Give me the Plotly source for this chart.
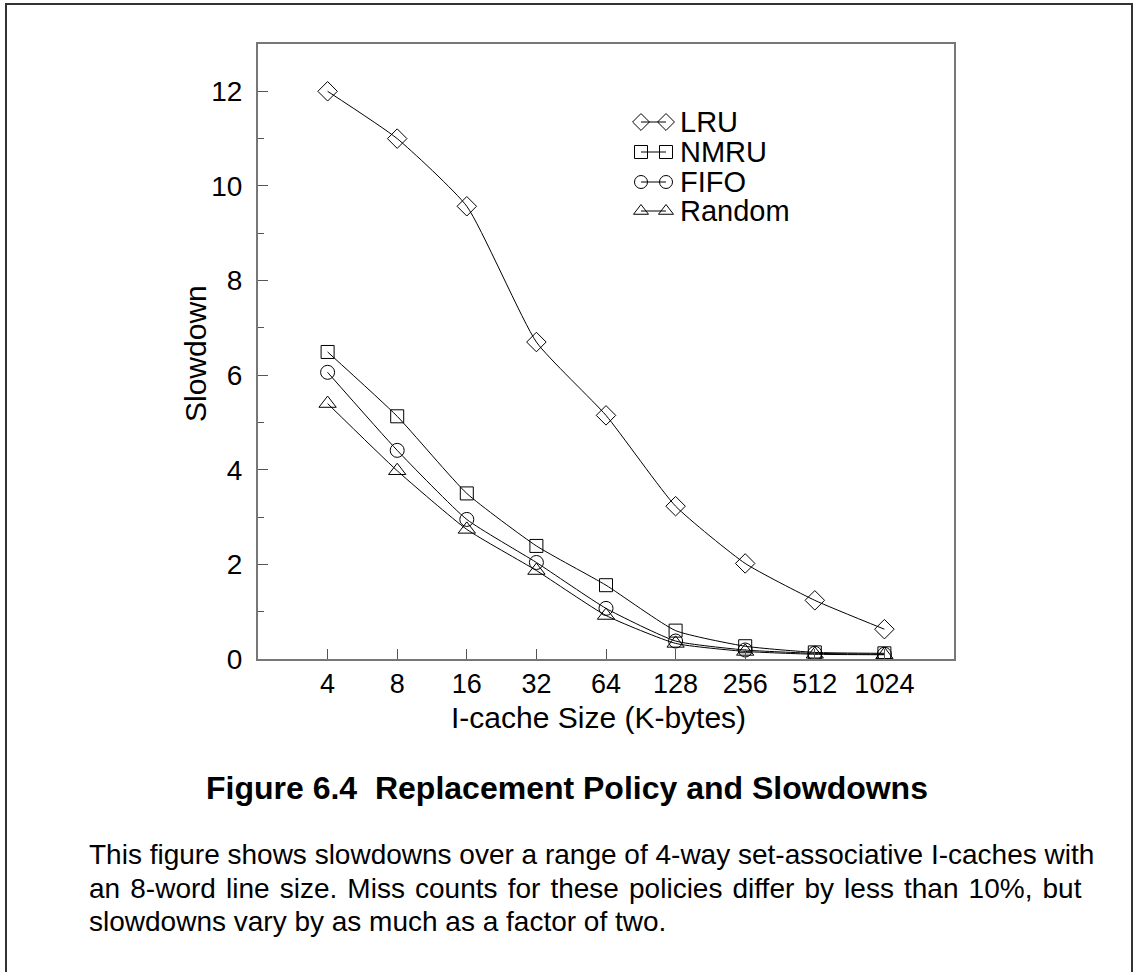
import plotly.graph_objects as go

# I-cache sizes (K-bytes) and slowdown per replacement policy
cache_sizes = ["4", "8", "16", "32", "64", "128", "256", "512", "1024"]
lru = [12.0, 11.0, 9.57, 6.70, 5.15, 3.23, 2.02, 1.24, 0.63]
nmru = [6.49, 5.13, 3.50, 2.39, 1.56, 0.60, 0.27, 0.14, 0.12]
fifo = [6.06, 4.41, 2.95, 2.04, 1.07, 0.38, 0.19, 0.12, 0.10]
random_ = [5.40, 3.98, 2.74, 1.87, 0.92, 0.33, 0.16, 0.10, 0.09]

policies = ["LRU", "NMRU", "FIFO", "Random"]
series = [lru, nmru, fifo, random_]
symbols = ["diamond-open", "square-open", "circle-open", "triangle-up-open"]
sizes = [15, 13, 14, 15]

FONT = "Liberation Sans, Arial, sans-serif"
idx = list(range(len(cache_sizes)))

# plot area in pixels (used to place text given in page pixels)
W, H = 1135, 972
PL, PT, PR, PB = 258, 44, 954, 659


def px(x):
    return (x - PL) / (PR - PL)


def py(y):
    return (PB - y) / (PB - PT)


fig = go.Figure()

for name, vals, sym, sz in zip(policies, series, symbols, sizes):
    fig.add_trace(go.Scatter(
        x=idx, y=vals, name=name, mode="lines+markers",
        line=dict(color="black", width=1, shape="spline", smoothing=0.5),
        marker=dict(symbol=sym, size=sz, color="black", line=dict(width=1)),
        showlegend=False,
    ))

# Legend glyphs (marker-line-marker) drawn on an overlay axis in plot fractions
leg_rows = [122, 152, 182, 211]
for name, sym, row in zip(policies, symbols, leg_rows):
    ly = py(row)
    fig.add_trace(go.Scatter(
        x=[px(641), px(666)], y=[ly, ly], mode="lines+markers",
        xaxis="x2", yaxis="y2", hoverinfo="skip", showlegend=False,
        line=dict(color="black", width=1),
        marker=dict(symbol=sym, size=13, color="black", line=dict(width=1)),
    ))
    fig.add_annotation(x=px(678), y=ly, xref="x2", yref="y2", text=name,
                       showarrow=False, xanchor="left", yanchor="middle",
                       font=dict(family=FONT, size=29, color="black"))

fig.update_layout(
    width=W, height=H,
    margin=dict(l=PL, r=W - PR, t=PT, b=H - PB),
    paper_bgcolor="white", plot_bgcolor="white",
    font=dict(family=FONT, color="black"),
    xaxis=dict(
        range=[-1, 9], tickmode="array", tickvals=idx, ticktext=cache_sizes,
        ticks="inside", ticklen=10, tickcolor="#555", tickwidth=1,
        showline=True, linecolor="#777", linewidth=2, mirror=True,
        showgrid=False, zeroline=False,
        tickfont=dict(family=FONT, size=27, color="black"),
    ),
    yaxis=dict(
        range=[0, 13], tickvals=[0, 2, 4, 6, 8, 10, 12],
        ticks="inside", ticklen=10, tickcolor="#555", tickwidth=1,
        minor=dict(tickvals=[1, 3, 5, 7, 9, 11], ticks="inside", ticklen=6,
                   tickcolor="#555", tickwidth=1),
        showline=True, linecolor="#777", linewidth=2, mirror=True,
        showgrid=False, zeroline=False, ticklabelstandoff=8,
        tickfont=dict(family=FONT, size=28, color="black"),
    ),
    xaxis2=dict(overlaying="x", range=[0, 1], visible=False),
    yaxis2=dict(overlaying="y", range=[0, 1], visible=False),
)

# Axis titles
fig.add_annotation(x=px(598), y=py(717), xref="paper", yref="paper",
                   text="I-cache Size (K-bytes)", showarrow=False,
                   xanchor="center", yanchor="middle",
                   font=dict(family=FONT, size=30, color="black"))
fig.add_annotation(x=px(195), y=py(354), xref="paper", yref="paper",
                   text="Slowdown", showarrow=False, textangle=-90,
                   xanchor="center", yanchor="middle",
                   font=dict(family=FONT, size=30, color="black"))

# Figure caption
fig.add_annotation(x=px(567), y=py(788), xref="paper", yref="paper",
                   xanchor="center", yanchor="middle", showarrow=False,
                   text="<b>Figure 6.4  Replacement Policy and Slowdowns</b>",
                   font=dict(family=FONT, size=32, color="black"))
caption = [
    "This figure shows slowdowns over a range of 4-way set-associative I-caches with",
    "an 8-word line size. Miss counts for these policies differ by less than 10%, but",
    "slowdowns vary by as much as a factor of two.",
]
caption_rows = [854, 888, 921]
for i, (line, row) in enumerate(zip(caption, caption_rows)):
    if i == 1:
        # justified line: widen the word gaps a little
        line = line.replace(" ", " \u200a")
    fig.add_annotation(x=px(87), y=py(row),
                       xref="paper", yref="paper", xanchor="left",
                       yanchor="middle", showarrow=False, text=line,
                       font=dict(family=FONT, size=28, color="black"))

# Outer frame around the figure
fig.add_shape(type="rect", xref="paper", yref="paper",
              x0=px(6), x1=px(1132), y0=py(1000), y1=py(4),
              line=dict(color="#333", width=2), layer="below")

fig.write_html("out.html")
